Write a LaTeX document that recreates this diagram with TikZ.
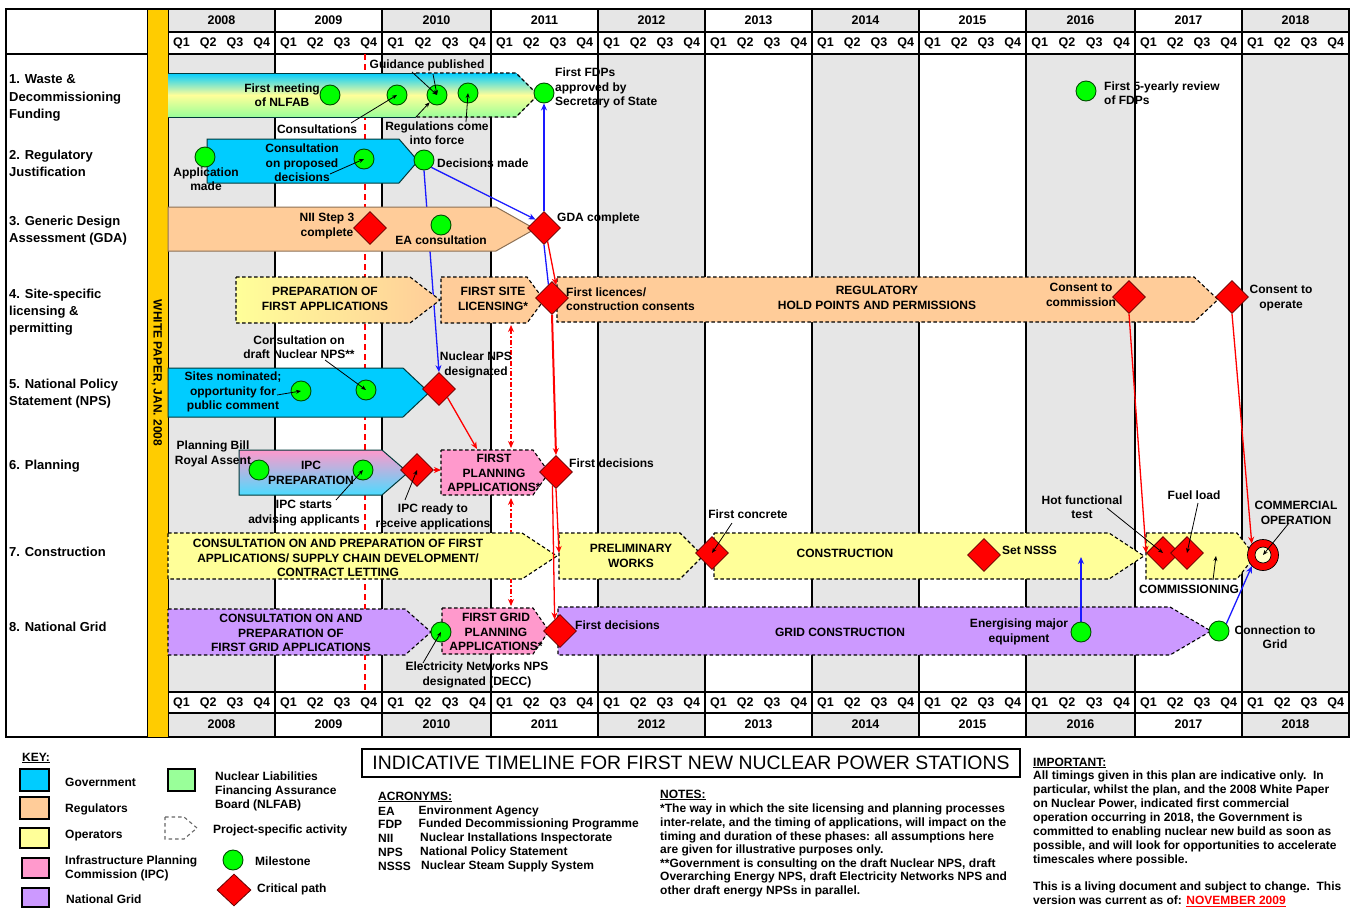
\documentclass[tikz,border=0pt]{standalone}
\usepackage{fontspec}
\setmainfont{Liberation Sans}
\usetikzlibrary{arrows.meta,shapes.geometric}
\pgfdeclarelayer{grid}
\pgfdeclarelayer{barA}
\pgfdeclarelayer{linkA}
\pgfdeclarelayer{barB}
\pgfdeclarelayer{linkB}
\pgfdeclarelayer{leaders}
\pgfsetlayers{grid,barA,linkA,barB,linkB,main,leaders}
\definecolor{govblue}{HTML}{00CCFF}
\definecolor{regorange}{HTML}{FFCC99}
\definecolor{opyellow}{HTML}{FFFF99}
\definecolor{ipcpink}{HTML}{FF99CC}
\definecolor{gridpurple}{HTML}{CC99FF}
\definecolor{nlgreen}{HTML}{99FF99}
\definecolor{colgrey}{HTML}{E6E6E6}
\definecolor{barorange}{HTML}{FFCC00}
\definecolor{msgreen}{HTML}{00FF00}
\definecolor{linkblue}{HTML}{1A1AFF}
\newcommand{\phasebar}[6][]{\path[#1] (#2,#5) -- (#3,#5) -- (#4,{(#5+#6)/2}) -- (#3,#6) -- (#2,#6) -- cycle;}
\tikzset{
  x=1pt,y=-1pt,
  txt/.style={font=\fontsize{12}{14.3}\selectfont\bfseries,align=center,inner sep=0pt},
  ltxt/.style={txt,align=left,anchor=west},
  rowlab/.style={font=\fontsize{13}{17.2}\selectfont\bfseries,align=left,anchor=west,inner sep=0pt},
  qlab/.style={font=\fontsize{12.5}{14}\selectfont\bfseries,inner sep=0pt},
  keytxt/.style={font=\fontsize{12}{14}\selectfont\bfseries,align=left,anchor=west,inner sep=0pt},
  milestone/.style={circle,draw=black!70!green,line width=.9pt,fill=msgreen,minimum size=20pt,inner sep=0pt},
  critical/.style={diamond,draw=black!60!red,line width=.8pt,fill=red,minimum width=33pt,minimum height=33pt,inner sep=0pt},
  solidbar/.style={draw=black!55!teal,line width=1pt},
  dashbar/.style={draw=black,line width=1.1pt,dash pattern=on 3.5pt off 2.5pt},
  bluelink/.style={draw=linkblue,line width=1.3pt,-{Stealth[length=7pt,width=6pt]}},
  redlink/.style={draw=red,line width=1.3pt,-{Stealth[length=7pt,width=6pt]}},
  leader/.style={draw=black,line width=.8pt,-{Stealth[length=5pt,width=4pt]}},
  rowbox/.style={draw=black,line width=1.3pt},
  keybox/.style={draw=black,line width=1.4pt},
}
\begin{document}
\begin{tikzpicture}
\useasboundingbox (0,0) rectangle (1358,908);

% ---------- marks
\node[milestone] (mMeeting) at (330,95) {};
\node[milestone] (mConsA) at (397,95) {};
\node[milestone] (mGuid) at (437,95) {};
\node[milestone] (mReg) at (468,93) {};
\node[milestone] (mFDP) at (544,93) {};
\node[milestone] (mApp) at (205,157) {};
\node[milestone] (mProp) at (364,159) {};
\node[milestone] (mDec) at (424,160) {};
\node[milestone] (mEA) at (441,225) {};
\node[milestone] (mReview) at (1086,91) {};
\node[milestone] (mSites) at (301,391) {};
\node[milestone] (mDraft) at (366,390) {};
\node[milestone] (mBill) at (259,470) {};
\node[milestone] (mIPC) at (363,470) {};
\node[milestone] (mElec) at (441,632) {};
\node[milestone] (mEnerg) at (1081,632) {};
\node[milestone] (mConn) at (1219,631) {};
\node[critical] (dNII) at (370,228) {};
\node[critical] (dGDA) at (544,228) {};
\node[critical] (dLic) at (552,298) {};
\node[critical] (dComm) at (1129,297) {};
\node[critical] (dOper) at (1232,297) {};
\node[critical] (dNPS) at (439,389) {};
\node[critical] (dIPC) at (417,470) {};
\node[critical] (dPlan) at (556,472) {};
\node[critical] (dGrid) at (560,631) {};
\node[critical] (dConc) at (712,553) {};
\node[critical] (dNSSS) at (984,555) {};
\node[critical] (dHot) at (1163,553) {};
\node[critical] (dFuel) at (1187,553) {};
\node[circle,draw=black,line width=.7pt,fill=red,minimum size=31pt,inner sep=0pt] (dCO) at (1263,555) {};
\node[circle,draw=black,line width=.7pt,fill=opyellow!50!white,minimum size=16pt,inner sep=0pt] (dCOin) at (1263,555) {};

% ---------- grid
\begin{pgfonlayer}{grid}
\fill[white] (0,0) rectangle (1358,908);
\foreach \a/\b/\yr/\g in {168/275/2008/1,275/382/2009/0,382/491/2010/1,491/598/2011/0,598/705/2012/1,705/812/2013/0,812/919/2014/1,919/1026/2015/0,1026/1135/2016/1,1135/1242/2017/0,1242/1349/2018/1}{
  \ifnum\g=1
    \fill[colgrey] (\a,9) rectangle (\b,32);
    \fill[colgrey] (\a,54) rectangle (\b,692);
    \fill[colgrey] (\a,713) rectangle (\b,737);
  \fi
  \node[qlab] (ytop\yr) at ({(\a+\b)/2},20) {\yr};
  \node[qlab] (ybot\yr) at ({(\a+\b)/2},724) {\yr};
  \foreach \n in {1,2,3,4}{
    \node[qlab] (qt\yr-\n) at ({\a+(\b-\a)*(2*\n-1)/8},43) {Q\n};
    \node[qlab] (qb\yr-\n) at ({\a+(\b-\a)*(2*\n-1)/8},703) {Q\n};
  }
  \draw[rowbox] (\a,9) -- (\a,737);
}
\draw[rowbox] (1349,9) -- (1349,737);
\draw[rowbox] (6,9) rectangle (1349,737);
\draw[rowbox] (6,54) -- (1349,54);
\draw[rowbox] (168,32) -- (1349,32);
\draw[rowbox] (168,692) -- (1349,692);
\draw[rowbox] (168,713) -- (1349,713);
\draw[draw=black,line width=1pt,fill=barorange] (147,9) rectangle (168,737);
\draw[red,line width=1.2pt,dash pattern=on 6pt off 4pt] (365,54) -- (365,692);
\end{pgfonlayer}

\coordinate (ddTopA) at (511,325);
\coordinate (ddTopB) at (511,448);
\coordinate (ddMidA) at (511,498);
\coordinate (ddMidB) at (511,535);
\coordinate (ddLowA) at (511,578);
\coordinate (ddLowB) at (511,606);
\coordinate (pPlanTop) at (477,449);
\coordinate (pPlanLeft) at (441,470);
\coordinate (pPrelim) at (559,553);
\coordinate (pNSSSup) at (1081,557);

% ---------- solid / first bars
\begin{pgfonlayer}{barA}
\phasebar[fill=govblue,solidbar]{168}{403}{429}{368}{417}
\phasebar[fill=govblue,solidbar]{207}{399}{418}{139}{183}
\end{pgfonlayer}

\begin{pgfonlayer}{linkA}
\draw[bluelink] (mDec.south) -- (dNPS.north);
\draw[redlink,dash pattern=on 5pt off 2pt on 1.5pt off 2pt,{Stealth[length=7pt,width=6pt]}-{Stealth[length=7pt,width=6pt]},line width=1.6pt] (ddTopA) -- (ddTopB);
\draw[redlink,dash pattern=on 5pt off 2pt on 1.5pt off 2pt,{Stealth[length=7pt,width=6pt]}-,line width=1.6pt] (ddMidA) -- (ddMidB);
\draw[redlink,dash pattern=on 5pt off 2pt on 1.5pt off 2pt,line width=1.6pt] (ddLowA) -- (ddLowB);
\end{pgfonlayer}

% ---------- bars above those links
\begin{pgfonlayer}{barB}
% row 1
\fill[top color=govblue,bottom color=nlgreen,middle color=opyellow] (168,73) -- (516,73) -- (538,95) -- (516,117) -- (168,117) -- cycle;
\draw[solidbar] (416,73) -- (168,73);
\draw[solidbar] (168,117) -- (416,117);
\draw[dashbar] (416,73) -- (516,73) -- (538,95) -- (516,117) -- (416,117);
% row 3
\phasebar[fill=regorange,draw=black!45!regorange,line width=1pt]{168}{496}{535}{207}{251}
% row 4
\phasebar[left color=opyellow,right color=regorange,dashbar]{236}{410}{440}{277}{323}
\phasebar[fill=regorange,dashbar]{441}{527}{544}{277}{323}
\phasebar[fill=regorange,dashbar]{557}{1194}{1218}{277}{322}
% row 6
\phasebar[top color=ipcpink,bottom color=govblue!70!white,solidbar]{239}{382}{408}{450}{495}
\phasebar[fill=ipcpink,dashbar]{441}{533}{549}{450}{495}
% row 7
\phasebar[fill=opyellow,dashbar]{168}{522}{557}{533}{579}
\phasebar[fill=opyellow,dashbar]{559}{680}{703}{533}{579}
\phasebar[fill=opyellow,dashbar]{714}{1109}{1144}{533}{579}
\phasebar[fill=opyellow,dashbar]{1146}{1237}{1255}{533}{579}
% row 8
\phasebar[fill=gridpurple,dashbar]{168}{405}{431}{609}{655}
\phasebar[fill=ipcpink,dashbar]{442}{533}{549}{608}{654}
\phasebar[fill=gridpurple,dashbar]{558}{1170}{1211}{607}{655}
\end{pgfonlayer}

% ---------- links above bars
\begin{pgfonlayer}{linkB}
\draw[bluelink] (mDec.south east) -- (dGDA.north west);
\draw[bluelink] (dGDA.north) -- (mFDP.south);
\draw[draw=linkblue,line width=1.3pt] (dLic.105) -- (dGDA.-90);
\draw[redlink] (dGDA.-75) -- (dLic.72);
\draw[redlink,line width=2pt] (dLic.south) -- (dPlan.north);
\draw[redlink] (dNPS.south east) -- (pPlanTop);
\draw[redlink] (dIPC.east) -- (pPlanLeft);
\draw[redlink] (dPlan.south) -- (pPrelim);
\draw[redlink] (dPlan.-105) -- (dGrid.115);
\draw[redlink] (dComm.south) -- (dHot.west);
\draw[redlink] (dOper.south) -- (dCO.north west);
\draw[bluelink] (mEnerg.north) -- (pNSSSup);
\draw[bluelink] (mConn.north east) -- (dCO.south west);
\end{pgfonlayer}

% ---------- leaders
\coordinate (lgA) at (412,72);
\coordinate (lgB) at (433,74);
\coordinate (lcA) at (351,123);
\coordinate (lcB) at (416,117);
\coordinate (lrA) at (466,122);
\coordinate (lpA) at (330,174);
\coordinate (ldA) at (325,360);
\coordinate (lsA) at (277,395);
\coordinate (liA) at (336,500);
\coordinate (lrB) at (405,500);
\coordinate (leA) at (423,663);
\coordinate (lfA) at (732,523);
\coordinate (lhA) at (1107,508);
\coordinate (lfB) at (1198,503);
\coordinate (lmA) at (1213,580);
\coordinate (lmB) at (1216,556);
\coordinate (loA) at (1289,523);
\begin{pgfonlayer}{leaders}
\draw[leader] (lgA) -- (mGuid.center);
\draw[leader] (lgB) -- (mGuid.center);
\draw[leader] (lcA) -- (mConsA.center);
\draw[leader] (lcB) -- (mGuid.south west);
\draw[leader] (lrA) -- (mReg.center);
\draw[leader] (lpA) -- (mProp.center);
\draw[leader] (ldA) -- (mDraft.center);
\draw[leader] (lsA) -- (mSites.center);
\draw[leader] (liA) -- (mIPC.center);
\draw[leader] (lrB) -- (dIPC.center);
\draw[leader] (leA) -- (mElec.center);
\draw[leader] (lfA) -- (dConc.center);
\draw[leader] (lhA) -- (dHot.center);
\draw[leader] (lfB) -- (dFuel.center);
\draw[leader] (lmA) -- (lmB);
\draw[leader] (loA) -- (dCOin.center);
\end{pgfonlayer}

% ---------- row labels
\node[rowlab] (r1) at (9,98) {1. Waste \&\\Decommissioning\\Funding};
\node[rowlab] (r2) at (9,163) {2. Regulatory\\Justification};
\node[rowlab] (r3) at (9,231) {3. Generic Design\\Assessment (GDA)};
\node[rowlab] (r4) at (9,312) {4. Site-specific\\licensing \&\\permitting};
\node[rowlab] (r5) at (9,394) {5. National Policy\\Statement (NPS)};
\node[rowlab] (r6) at (9,466) {6. Planning};
\node[rowlab] (r7) at (9,552) {7. Construction};
\node[rowlab] (r8) at (9,627) {8. National Grid};
\node[txt,rotate=-90] (wp) at (157,373) {WHITE PAPER, JAN. 2008};

% ---------- chart texts
\node[txt] (t01) at (282,95) {First meeting\\of NLFAB};
\node[txt] (t02) at (427,65) {Guidance published};
\node[ltxt] (t03) at (555,88) {First FDPs\\approved by\\Secretary of State};
\node[txt] (t04) at (317,129) {Consultations};
\node[txt] (t05) at (437,133) {Regulations come\\into force};
\node[txt] (t06) at (302,163) {Consultation\\on proposed\\decisions};
\node[txt] (t07) at (206,179) {Application\\made};
\node[ltxt] (t08) at (437,163) {Decisions made};
\node[txt] (t09) at (327,226) {NII Step 3\\complete};
\node[txt] (t10) at (441,240) {EA consultation};
\node[ltxt] (t11) at (557,218) {GDA complete};
\node[txt] (t12) at (325,299) {PREPARATION OF\\FIRST APPLICATIONS};
\node[txt] (t13) at (493,299) {FIRST SITE\\LICENSING*};
\node[ltxt] (t14) at (566,299) {First licences/\\construction consents};
\node[txt] (t15) at (877,298) {REGULATORY\\HOLD POINTS AND PERMISSIONS};
\node[txt] (t16) at (1081,295) {Consent to\\commission};
\node[txt] (t17) at (1281,298) {Consent to\\operate};
\node[ltxt] (t18) at (1104,93) {First 5-yearly review\\of FDPs};
\node[txt] (t19) at (299,347) {Consultation on\\draft Nuclear NPS**};
\node[txt] (t20) at (476,365) {Nuclear NPS\\designated};
\node[txt] (t21) at (233,392) {Sites nominated;\\opportunity for\\public comment};
\node[txt] (t22) at (213,454) {Planning Bill\\Royal Assent};
\node[txt] (t23) at (311,473) {IPC\\PREPARATION};
\node[txt] (t24) at (304,513) {IPC starts\\advising applicants};
\node[txt] (t25) at (433,517) {IPC ready to\\receive applications};
\node[txt] (t26) at (494,473) {FIRST\\PLANNING\\APPLICATIONS*};
\node[ltxt] (t27) at (569,463) {First decisions};
\node[txt] (t28) at (338,558) {CONSULTATION ON AND PREPARATION OF FIRST\\APPLICATIONS/ SUPPLY CHAIN DEVELOPMENT/\\CONTRACT LETTING};
\node[txt] (t29) at (631,556) {PRELIMINARY\\WORKS};
\node[txt] (t30) at (748,514) {First concrete};
\node[txt] (t31) at (845,553) {CONSTRUCTION};
\node[ltxt] (t32) at (1002,550) {Set NSSS};
\node[txt] (t33) at (1082,507) {Hot functional\\test};
\node[txt] (t34) at (1194,495) {Fuel load};
\node[txt] (t35) at (1296,513) {COMMERCIAL\\OPERATION};
\node[txt] (t36) at (1189,589) {COMMISSIONING};
\node[txt] (t37) at (291,633) {CONSULTATION ON AND\\PREPARATION OF\\FIRST GRID APPLICATIONS};
\node[txt] (t38) at (496,632) {FIRST GRID\\PLANNING\\APPLICATIONS*};
\node[ltxt] (t39) at (575,625) {First decisions};
\node[txt] (t40) at (477,675) {Electricity Networks NPS\\designated (DECC)};
\node[txt] (t41) at (840,632) {GRID CONSTRUCTION};
\node[txt] (t42) at (1019,632) {Energising major\\equipment};
\node[txt] (t43) at (1275,637) {Connection to\\Grid};

% ---------- key
\node[keytxt] (kKey) at (22,758) {\underline{KEY:}};
\node[keybox,fill=govblue,minimum width=29pt,minimum height=22pt,inner sep=0pt] (k1) at (34.5,780) {};
\node[keybox,fill=regorange,minimum width=29pt,minimum height=22pt,inner sep=0pt] (k2) at (34.5,808) {};
\node[keybox,fill=opyellow,minimum width=29pt,minimum height=20pt,inner sep=0pt] (k3) at (34.5,838) {};
\node[keybox,fill=ipcpink,minimum width=27pt,minimum height=20pt,inner sep=0pt] (k4) at (35.5,868) {};
\node[keybox,fill=gridpurple,minimum width=27pt,minimum height=19pt,inner sep=0pt] (k5) at (35.5,897.5) {};
\node[keybox,fill=nlgreen,minimum width=27pt,minimum height=22pt,inner sep=0pt] (k6) at (181.5,780) {};
\phasebar[draw=black!60,line width=1.1pt,dash pattern=on 3.5pt off 3pt]{165}{184}{197}{817}{839}
\node[milestone] (k7) at (233,860) {};
\node[critical,minimum width=34pt,minimum height=32pt] (k8) at (234,890) {};
\node[keytxt] (kt1) at (65,782) {Government};
\node[keytxt] (kt2) at (65,809) {Regulators};
\node[keytxt] (kt3) at (65,836) {Operators};
\node[keytxt] (kt4) at (65,868) {Infrastructure Planning\\Commission (IPC)};
\node[keytxt] (kt5) at (66,899) {National Grid};
\node[keytxt] (kt6) at (215,791) {Nuclear Liabilities\\Financing Assurance\\Board (NLFAB)};
\node[keytxt] (kt7) at (213,830) {Project-specific activity};
\node[keytxt] (kt8) at (255,861) {Milestone};
\node[keytxt] (kt9) at (257,889) {Critical path};

% ---------- title
\node[draw=black,line width=1.6pt,minimum width=658pt,minimum height=28pt,inner sep=0pt,font=\fontsize{19.4}{22}\selectfont] (title) at (691,763) {INDICATIVE TIMELINE FOR FIRST NEW NUCLEAR POWER STATIONS};

% ---------- acronyms
\node[keytxt] (acT) at (378,797) {\underline{ACRONYMS:}};
\node[keytxt] (ac1) at (378,811) {EA};
\node[keytxt] (ac2) at (378,824) {FDP};
\node[keytxt] (ac3) at (378,838) {NII};
\node[keytxt] (ac4) at (378,852) {NPS};
\node[keytxt] (ac5) at (378,866) {NSSS};
\node[keytxt] (ad1) at (418.5,811) {Environment Agency};
\node[keytxt] (ad2) at (418.5,824) {Funded Decommissioning Programme};
\node[keytxt] (ad3) at (420,838) {Nuclear Installations Inspectorate};
\node[keytxt] (ad4) at (420,852) {National Policy Statement};
\node[keytxt] (ad5) at (421,866) {Nuclear Steam Supply System};

% ---------- notes
\node[keytxt] (nT) at (660,795) {\underline{NOTES:}};
\node[keytxt,anchor=north west,font=\fontsize{12}{13.6}\selectfont\bfseries] (notes) at (660,804) {*The way in which the site licensing and planning processes\\inter-relate, and the timing of applications, will impact on the\\timing and duration of these phases: all assumptions here\\are given for illustrative purposes only.\\**Government is consulting on the draft Nuclear NPS, draft\\Overarching Energy NPS, draft Electricity Networks NPS and\\other draft energy NPSs in parallel.};

% ---------- important
\node[keytxt] (iT) at (1033,763) {\underline{IMPORTANT:}};
\node[keytxt,anchor=north west,font=\fontsize{12}{14}\selectfont\bfseries] (imp) at (1033,771) {All timings given in this plan are indicative only.\ \ In\\particular, whilst the plan, and the 2008 White Paper\\on Nuclear Power, indicated first commercial\\operation occurring in 2018, the Government is\\committed to enabling nuclear new build as soon as\\possible, and will look for opportunities to accelerate\\timescales where possible.\\[12.5pt]This is a living document and subject to change.\ \ This\\version was current as of: \textcolor{red}{\underline{NOVEMBER 2009}}};
\end{tikzpicture}
\end{document}
